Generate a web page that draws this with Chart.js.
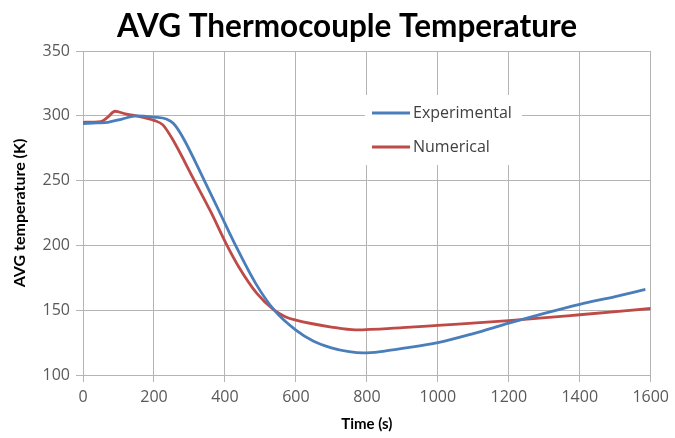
<!DOCTYPE html>
<html>
<head>
<meta charset="utf-8">
<script src="https://cdn.jsdelivr.net/npm/chart.js@4.4.1/dist/chart.umd.min.js"></script>
<style>
  html, body { margin: 0; padding: 0; background: #fff; }
  #wrap { width: 675px; height: 438px; }
</style>
</head>
<body>
<div id="wrap"><canvas id="avgChart"></canvas></div>
<script>
// values (time in s, temperature in K)
var expTime = [0, 40, 70, 110, 150, 200, 235, 255, 280, 342, 386, 430, 487, 539, 600, 650, 700, 750, 790, 850, 900, 1000, 1100, 1200, 1300, 1400, 1500, 1585];
var expTemp = [294, 294.5, 295, 297.5, 300, 299, 297.5, 294, 284, 250, 225, 200, 170.5, 150, 134.6, 126, 121, 118, 117, 118.5, 120.5, 125, 132, 140, 147.5, 154.5, 160.5, 166];

var numTime = [0, 50, 70, 90, 120, 150, 200, 225, 250, 314, 360, 404, 440, 490, 539, 570, 600, 700, 768, 900, 1000, 1200, 1400, 1600];
var numTemp = [295, 295.5, 299, 303.5, 301.5, 300, 296.5, 293, 283, 250, 226, 201, 183, 163, 150, 145, 142.3, 137, 134.8, 136.5, 138.3, 142, 146.5, 151.3];

var xTicks = [0, 200, 400, 600, 800, 1000, 1200, 1400, 1600];
var yTicks = [100, 150, 200, 250, 300, 350];

var chartTitle = 'AVG Thermocouple Temperature';

function toPoints(xs, ys){
    return xs.map(function(x, i){ return {x: x, y: ys[i]}; });
}

// title drawn by hand so it can sit a bit right of the canvas centre
const topTitle = {
    id: 'topTitle',
    afterDraw(chart){
        const ctx = chart.ctx;
        ctx.save();
        ctx.font = 'bold 31.5px Lato';
        ctx.fillStyle = '#000000';
        ctx.textAlign = 'center';
        ctx.textBaseline = 'alphabetic';
        ctx.fillText(chartTitle, 347, 37);
        ctx.restore();
    }
};

// legend drawn inside the plot, on a white box
const insideLegend = {
    id: 'insideLegend',
    afterDatasetsDraw(chart){
        const ctx = chart.ctx;
        const area = chart.chartArea;
        const x0 = area.left + 289;
        const y0 = area.top + 62;
        ctx.save();
        ctx.fillStyle = '#ffffff';
        ctx.fillRect(x0 - 7, y0 - 18, 157, 70);
        ctx.font = '16px "Open Sans"';
        ctx.textBaseline = 'middle';
        chart.data.datasets.forEach(function(ds, i){
            const yy = y0 + i * 34;
            ctx.strokeStyle = ds.borderColor;
            ctx.lineWidth = 3;
            ctx.beginPath();
            ctx.moveTo(x0, yy);
            ctx.lineTo(x0 + 38, yy);
            ctx.stroke();
            ctx.fillStyle = '#404040';
            ctx.fillText(ds.label, x0 + 41, yy);
        });
        ctx.restore();
    }
};

new Chart(document.getElementById('avgChart').getContext('2d'), {
    type: 'line',
    data: {
        datasets: [{
            label: 'Experimental',
            data: toPoints(expTime, expTemp),
            borderColor: '#4a7ebb',
            borderWidth: 2.8,
            pointRadius: 0,
            cubicInterpolationMode: 'monotone',
            fill: false
        }, {
            label: 'Numerical',
            data: toPoints(numTime, numTemp),
            borderColor: '#be4b48',
            borderWidth: 2.8,
            pointRadius: 0,
            cubicInterpolationMode: 'monotone',
            fill: false
        }]
    },
    options: {
        responsive: true,
        maintainAspectRatio: false,
        animation: false,
        layout: { padding: { left: 0, right: 22, top: 51, bottom: 0 } },
        plugins: {
            legend: { display: false },
            tooltip: { enabled: false },
            title: { display: false }
        },
        scales: {
            x: {
                type: 'linear',
                min: 0,
                max: 1600,
                afterBuildTicks: function(scale){
                    scale.ticks = xTicks.map(function(v){ return {value: v}; });
                },
                afterFit: function(scale){ scale.height = 63; },
                grid: { color: '#b4b4b4', lineWidth: 1, tickLength: 7 },
                border: { color: '#b4b4b4' },
                ticks: {
                    color: '#595959',
                    font: { family: 'Open Sans', size: 16 },
                    padding: 6,
                    maxRotation: 0,
                    callback: function(v){ return String(v); }
                },
                title: {
                    display: true,
                    text: 'Time (s)',
                    color: '#000000',
                    font: { family: 'Lato', size: 15, weight: 'bold' },
                    padding: { top: 2, bottom: 5 }
                }
            },
            y: {
                min: 100,
                max: 350,
                afterBuildTicks: function(scale){
                    scale.ticks = yTicks.map(function(v){ return {value: v}; });
                },
                afterFit: function(scale){ scale.width = 83; },
                grid: { color: '#b4b4b4', lineWidth: 1, tickLength: 7 },
                border: { color: '#b4b4b4' },
                ticks: {
                    color: '#595959',
                    font: { family: 'Open Sans', size: 16 },
                    padding: 6,
                    callback: function(v){ return String(v); }
                },
                title: {
                    display: true,
                    text: 'AVG temperature (K)',
                    color: '#000000',
                    font: { family: 'Lato', size: 16, weight: 'bold' },
                    padding: { top: 10, bottom: 0 }
                }
            }
        }
    },
    plugins: [insideLegend, topTitle]
});
</script>
</body>
</html>
